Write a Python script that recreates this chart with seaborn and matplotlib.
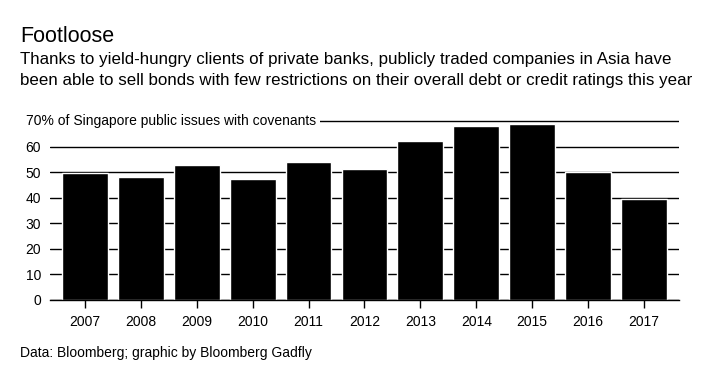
import pandas as pd
import matplotlib.pyplot as plt
import seaborn as sns

years = ['2007', '2008', '2009', '2010', '2011', '2012', '2013', '2014', '2015', '2016', '2017']
share = [49.5, 47.9, 52.6, 47.1, 53.8, 51.1, 62.0, 67.9, 69.0, 50.1, 39.3]
ytick_vals = [0, 10, 20, 30, 40, 50, 60, 70]
ytick_text = ['0', '10', '20', '30', '40', '50', '60', '']
top_label = '70% of Singapore public issues with covenants'

df = pd.DataFrame({'year': years, 'share': share})

sns.set_theme(style="white")
plt.rcParams['font.family'] = ['Liberation Sans', 'DejaVu Sans']

fig = plt.figure(figsize=(7.2, 3.81), dpi=100)
ax = fig.add_axes([0.0694, 0.2134, 0.8736, 0.4724])

sns.barplot(data=df, x='year', y='share', color='black', saturation=1,
            width=0.82, ax=ax)

ax.set_xlim(-0.625, 10.625)
ax.set_ylim(0, 70.5)
ax.set_yticks(ytick_vals)
ax.set_yticklabels(ytick_text)
ax.set_axisbelow(True)
ax.grid(axis='y', color='black', linewidth=1)
ax.grid(axis='x', visible=False)

for side in ['left', 'right', 'top']:
    ax.spines[side].set_visible(False)
ax.spines['bottom'].set_color('black')
ax.spines['bottom'].set_linewidth(1)

ax.tick_params(axis='x', direction='out', length=6, width=1, color='black',
               bottom=True, labelsize=10, pad=5, labelcolor='black')
ax.tick_params(axis='y', length=0, labelsize=10, pad=6.5, labelcolor='black')
ax.set_xlabel('')
ax.set_ylabel('')

# label for the top gridline, with a white box hiding the line behind it
ax.text(26 / 720, 70, top_label, transform=ax.get_yaxis_transform().__class__(
            fig.transFigure, ax.transData),
        ha='left', va='center', fontsize=10, color='black', zorder=5,
        bbox=dict(facecolor='white', edgecolor='none', pad=2.5))

fig.text(0.028, 1 - 42 / 381, 'Footloose', fontsize=15.5, va='baseline', color='black')
fig.text(0.028, 1 - 64 / 381,
         'Thanks to yield-hungry clients of private banks, publicly traded companies in Asia have',
         fontsize=12.2, va='baseline', color='black')
fig.text(0.028, 1 - 85 / 381,
         'been able to sell bonds with few restrictions on their overall debt or credit ratings this year',
         fontsize=12.2, va='baseline', color='black')
fig.text(0.028, 1 - 357 / 381, 'Data: Bloomberg; graphic by Bloomberg Gadfly',
         fontsize=10, va='baseline', color='black')

plt.savefig('out.png', dpi=100)
